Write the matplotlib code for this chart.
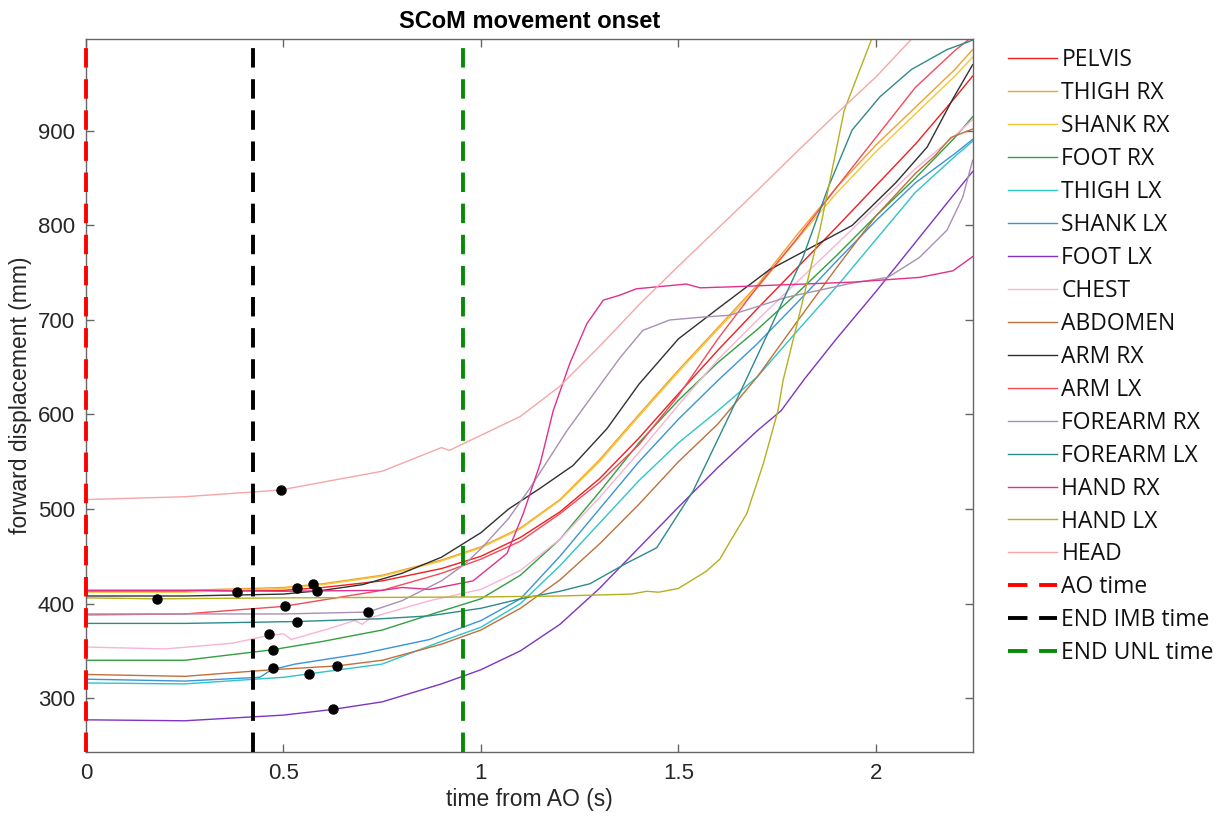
import matplotlib
matplotlib.use("Agg")
import matplotlib.pyplot as plt

# segment names and colours (legend order)
segments = ["PELVIS", "THIGH RX", "SHANK RX", "FOOT RX", "THIGH LX", "SHANK LX",
            "FOOT LX", "CHEST", "ABDOMEN", "ARM RX", "ARM LX", "FOREARM RX",
            "FOREARM LX", "HAND RX", "HAND LX", "HEAD"]
colors = ["#f01e1e", "#f2a12a", "#f5c63a", "#30a040", "#30c4c8", "#3a94d6",
          "#7d34c4", "#f8b4d4", "#c0703a", "#303030", "#f44a5a", "#a890b4",
          "#2e8a8a", "#e0308c", "#b4b020", "#f6a6a6"]

# forward displacement (mm) vs time from AO (s)
pelvis_t = [0, 0.25, 0.5, 0.6, 0.75, 0.9, 1.0, 1.1, 1.2, 1.3, 1.4, 1.5, 1.6, 1.7, 1.8, 1.9, 2.0, 2.1, 2.2, 2.245]
pelvis_v = [413, 413, 414, 417, 424, 437, 450, 470, 497, 532, 575, 622, 668, 712, 755, 798, 842, 886, 935, 958]

thigh_rx_t = [0, 0.25, 0.5, 0.6, 0.75, 0.9, 1.0, 1.1, 1.2, 1.3, 1.4, 1.5, 1.6, 1.7, 1.8, 1.9, 2.0, 2.1, 2.2, 2.245]
thigh_rx_v = [414, 414, 417, 421, 430, 446, 460, 480, 510, 552, 600, 647, 692, 737, 790, 840, 885, 925, 965, 986]

shank_rx_t = [0, 0.25, 0.5, 0.6, 0.75, 0.9, 1.0, 1.1, 1.2, 1.3, 1.4, 1.5, 1.6, 1.7, 1.8, 1.9, 2.0, 2.1, 2.2, 2.245]
shank_rx_v = [412, 412, 416, 420, 429, 445, 459, 479, 509, 550, 598, 645, 690, 734, 785, 834, 878, 918, 958, 978]

foot_rx_t = [0, 0.25, 0.47, 0.6, 0.75, 0.9, 1.0, 1.1, 1.2, 1.3, 1.4, 1.5, 1.6, 1.7, 1.8, 1.9, 2.0, 2.1, 2.2, 2.245]
foot_rx_v = [340, 340, 351, 360, 372, 392, 405, 430, 468, 518, 570, 615, 655, 690, 728, 768, 810, 850, 893, 915]

thigh_lx_t = [0, 0.25, 0.5, 0.75, 0.9, 1.0, 1.1, 1.2, 1.3, 1.4, 1.5, 1.6, 1.7, 1.8, 1.9, 2.0, 2.1, 2.2, 2.245]
thigh_lx_v = [316, 315, 322, 336, 360, 375, 400, 440, 485, 530, 570, 604, 640, 688, 735, 785, 835, 873, 889]

shank_lx_t = [0, 0.25, 0.44, 0.47, 0.53, 0.7, 0.87, 1.0, 1.1, 1.2, 1.3, 1.4, 1.5, 1.6, 1.7, 1.8, 1.9, 2.0, 2.1, 2.2, 2.245]
shank_lx_v = [320, 318, 322, 330, 336, 347, 362, 382, 405, 450, 500, 550, 595, 636, 675, 718, 762, 805, 845, 876, 891]

foot_lx_t = [0, 0.25, 0.5, 0.625, 0.75, 0.9, 1.0, 1.1, 1.2, 1.3, 1.4, 1.5, 1.6, 1.7, 1.76, 1.82, 1.9, 2.0, 2.1, 2.2, 2.245]
foot_lx_v = [277, 276, 282, 288, 296, 315, 330, 350, 378, 416, 459, 502, 544, 583, 604, 638, 680, 730, 782, 834, 857]

chest_t = [0, 0.2, 0.37, 0.46, 0.5, 0.52, 0.62, 0.68, 0.7, 0.72, 0.87, 1.0, 1.1, 1.2, 1.3, 1.4, 1.5, 1.6, 1.7, 1.8, 1.9, 2.0, 2.1, 2.2, 2.245]
chest_v = [354, 352, 358, 366, 368, 362, 374, 382, 378, 385, 403, 415, 435, 468, 512, 560, 610, 658, 700, 740, 780, 820, 860, 895, 912]

abdomen_t = [0, 0.25, 0.47, 0.635, 0.75, 0.9, 1.0, 1.1, 1.2, 1.3, 1.4, 1.5, 1.6, 1.7, 1.8, 1.9, 2.0, 2.1, 2.15, 2.19, 2.245]
abdomen_v = [325, 323, 330, 334, 340, 357, 372, 395, 425, 463, 505, 550, 590, 640, 698, 755, 810, 855, 874, 893, 902]

arm_rx_t = [0, 0.25, 0.5, 0.6, 0.7, 0.8, 0.9, 1.0, 1.07, 1.15, 1.233, 1.319, 1.4, 1.5, 1.6, 1.73, 1.833, 1.94, 2.05, 2.13, 2.195, 2.245]
arm_rx_v = [408, 408, 410, 414, 420, 432, 449, 475, 500, 522, 546, 585, 632, 680, 712, 753, 776, 800, 845, 883, 934, 970]

arm_lx_t = [0, 0.25, 0.5, 0.75, 0.9, 1.0, 1.1, 1.2, 1.3, 1.4, 1.5, 1.6, 1.7, 1.8, 1.9, 2.0, 2.1, 2.2, 2.245]
arm_lx_v = [388, 389, 397, 414, 432, 447, 466, 495, 528, 568, 620, 680, 735, 786, 840, 893, 946, 985, 1000]

forearm_rx_t = [0, 0.25, 0.5, 0.714, 0.8, 0.9, 0.96, 1.0, 1.07, 1.124, 1.218, 1.31, 1.352, 1.41, 1.478, 1.56, 1.63, 1.774, 1.94, 2.03, 2.11, 2.18, 2.22, 2.245]
forearm_rx_v = [389, 389, 389, 391, 403, 424, 442, 458, 490, 522, 583, 636, 660, 689, 700, 703, 705, 724, 739, 745, 766, 795, 830, 869]

forearm_lx_t = [0, 0.25, 0.534, 0.75, 0.87, 1.0, 1.1, 1.2, 1.276, 1.37, 1.445, 1.537, 1.63, 1.73, 1.815, 1.88, 1.94, 2.01, 2.09, 2.18, 2.245]
forearm_lx_v = [379, 379, 381, 384, 387, 395, 405, 413, 421, 443, 459, 519, 600, 689, 766, 841, 901, 936, 965, 986, 996]

hand_rx_t = [0, 0.25, 0.5, 0.75, 0.8, 0.87, 0.98, 1.066, 1.107, 1.15, 1.183, 1.225, 1.268, 1.31, 1.35, 1.394, 1.52, 1.555, 1.63, 1.94, 2.11, 2.195, 2.245]
hand_rx_v = [414, 414, 413, 414, 417, 415, 424, 453, 495, 548, 604, 654, 696, 721, 726, 733, 738, 734, 735, 740, 745, 752, 767]

hand_lx_t = [0, 0.18, 0.5, 1.0, 1.2, 1.38, 1.42, 1.45, 1.5, 1.57, 1.605, 1.63, 1.673, 1.715, 1.752, 1.765, 1.8, 1.858, 1.92, 1.99]
hand_lx_v = [406, 405, 406, 407, 408, 410, 413, 412, 416, 434, 447, 465, 495, 548, 604, 636, 695, 795, 922, 998]

head_t = [0, 0.25, 0.49, 0.75, 0.9, 0.92, 0.95, 1.0, 1.1, 1.2, 1.3, 1.4, 1.5, 1.6, 1.7, 1.8, 1.9, 2.0, 2.09]
head_v = [510, 513, 520, 540, 565, 562, 568, 578, 598, 630, 672, 716, 757, 797, 837, 878, 918, 957, 997]

series_t = [pelvis_t, thigh_rx_t, shank_rx_t, foot_rx_t, thigh_lx_t, shank_lx_t, foot_lx_t,
            chest_t, abdomen_t, arm_rx_t, arm_lx_t, forearm_rx_t, forearm_lx_t,
            hand_rx_t, hand_lx_t, head_t]
series_v = [pelvis_v, thigh_rx_v, shank_rx_v, foot_rx_v, thigh_lx_v, shank_lx_v, foot_lx_v,
            chest_v, abdomen_v, arm_rx_v, arm_lx_v, forearm_rx_v, forearm_lx_v,
            hand_rx_v, hand_lx_v, head_v]

# movement onset markers
onset_t = [0.493, 0.383, 0.181, 0.534, 0.574, 0.584, 0.504, 0.714, 0.534, 0.463, 0.473, 0.473, 0.564, 0.635, 0.625]
onset_v = [520, 412, 405, 416, 421, 413, 397, 391, 381, 368, 351, 332, 325, 334, 288]

# phase events
event_names = ["AO time", "END IMB time", "END UNL time"]
event_times = [0.0, 0.423, 0.955]
event_colors = ["#ff0000", "#000000", "#078a07"]

fig = plt.figure(figsize=(12.25, 8.17), dpi=100)
ax = fig.add_axes([0.0702, 0.0796, 0.7238, 0.8724])

for t, v, name, c in zip(series_t, series_v, segments, colors):
    ax.plot(t, v, color=c, linewidth=1.0, label=name)

ax.plot(onset_t, onset_v, "o", color="black", markersize=6.5, zorder=5)

for x, name, c in zip(event_times, event_names, event_colors):
    ax.axvline(x, color=c, linewidth=2.8, linestyle=(0, (5, 3)), label=name,
               zorder=4, clip_on=False)

ax.set_xlim(0, 2.245)
ax.set_ylim(243, 997)
ax.set_xticks([0, 0.5, 1, 1.5, 2])
ax.set_xticklabels(["0", "0.5", "1", "1.5", "2"])
ax.set_yticks([300, 400, 500, 600, 700, 800, 900])

for s in ax.spines.values():
    s.set_color("#666666")
    s.set_linewidth(1.0)
ax.tick_params(direction="in", top=True, right=True, length=6, width=1.0,
               color="#666666", labelsize=16, labelcolor="#262626", pad=8)
for lab in ax.get_xticklabels() + ax.get_yticklabels():
    lab.set_family("Liberation Sans")

ax.set_xlabel("time from AO (s)", fontsize=16.5, family="Liberation Sans", color="#262626", labelpad=3)
ax.set_ylabel("forward displacement (mm)", fontsize=16.5, family="Liberation Sans", color="#262626", labelpad=4)
ax.set_title("SCoM movement onset", fontsize=17, fontweight="bold", family="Liberation Sans", pad=8)

leg = ax.legend(loc="upper left", bbox_to_anchor=(1.029, 1.0), frameon=False,
                prop={"family": "Open Sans", "size": 16.5}, handlelength=2.18,
                handletextpad=0.17, labelspacing=0.39, borderaxespad=0.0)
for txt in leg.get_texts():
    txt.set_color("#111111")

fig.savefig("out.png", dpi=100, facecolor="white")
